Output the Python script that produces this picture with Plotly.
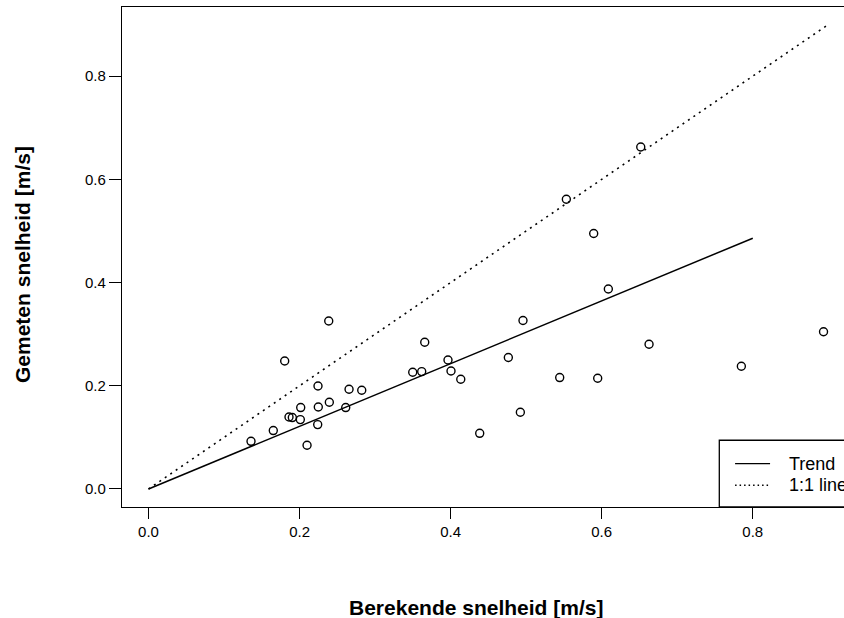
import plotly.graph_objects as go

# Calculated (x) versus measured (y) flow velocity, m/s
berekend = [0.1357, 0.1652, 0.1803, 0.1860, 0.1904, 0.2010, 0.2015, 0.2099, 0.2240,
            0.2244, 0.2248, 0.2386, 0.2394, 0.2611, 0.2655, 0.2823, 0.3498, 0.3617,
            0.3657, 0.3965, 0.4005, 0.4134, 0.4385, 0.4764, 0.4923, 0.4958, 0.5444,
            0.5532, 0.5894, 0.5947, 0.6088, 0.6517, 0.6627, 0.7849, 0.8937]
gemeten = [0.0924, 0.1132, 0.2481, 0.1395, 0.1384, 0.1345, 0.1578, 0.0847, 0.1248,
           0.1996, 0.1589, 0.3256, 0.1680, 0.1578, 0.1932, 0.1913, 0.2262, 0.2275,
           0.2843, 0.2500, 0.2287, 0.2126, 0.1079, 0.2547, 0.1486, 0.3264, 0.2159,
           0.5614, 0.4950, 0.2145, 0.3876, 0.6628, 0.2804, 0.2378, 0.3047]

# Trend line and 1:1 reference line end points
trend_x = [0.0, 0.8]
trend_y = [0.0, 0.486]
ref_x = [0.0, 0.9]
ref_y = [0.0, 0.9]

tick_vals = [0.0, 0.2, 0.4, 0.6, 0.8]
tick_text = ["0.0", "0.2", "0.4", "0.6", "0.8"]

FONT = "Liberation Sans, Arial, sans-serif"
X_RANGE = [-0.0351, 0.9208]
Y_RANGE = [-0.0349, 0.934]
DOTTED = "2px,4.6px"

fig = go.Figure()
fig.add_trace(go.Scatter(x=ref_x, y=ref_y, mode="lines",
                         line=dict(color="black", width=1.6, dash=DOTTED),
                         showlegend=False, hoverinfo="skip"))
fig.add_trace(go.Scatter(x=trend_x, y=trend_y, mode="lines",
                         line=dict(color="black", width=1.5),
                         showlegend=False, hoverinfo="skip"))
fig.add_trace(go.Scatter(x=berekend, y=gemeten, mode="markers",
                         marker=dict(symbol="circle-open", size=8, color="black",
                                     line=dict(width=1.4, color="black")),
                         showlegend=False))

# Legend box in the bottom-right corner (runs past the right edge)
leg_left, leg_right = 0.7557, 0.98
leg_top = 0.0944
fig.add_shape(type="rect", xref="x", yref="y", x0=leg_left, x1=leg_right,
              y0=Y_RANGE[0], y1=leg_top, line=dict(color="black", width=1.3),
              fillcolor="white", layer="above")
legend_items = [("Trend", "solid", 0.0492), ("1:1 line", "1.5px,3px", 0.0072)]
for label, dash, yy in legend_items:
    fig.add_shape(type="line", xref="x", yref="y", x0=0.7766, x1=0.8229, y0=yy, y1=yy,
                  line=dict(color="black", width=1.4, dash=dash), layer="above")
    fig.add_annotation(x=0.845, y=yy, xref="x", yref="y", text=label, showarrow=False,
                       xanchor="left", yanchor="middle",
                       font=dict(family=FONT, size=18, color="black"))

# Axis titles
fig.add_annotation(x=0.4903, y=-0.2, xref="paper", yref="paper",
                   text="<b>Berekende snelheid [m/s]</b>", showarrow=False,
                   xanchor="center", yanchor="middle",
                   font=dict(family=FONT, size=21, color="black"))
fig.add_annotation(x=-0.1385, y=0.484, xref="paper", yref="paper",
                   text="<b>Gemeten snelheid [m/s]</b>", showarrow=False, textangle=-90,
                   xanchor="center", yanchor="middle",
                   font=dict(family=FONT, size=21, color="black"))

axis_common = dict(showgrid=False, zeroline=False, showline=True, linecolor="black",
                   linewidth=1.3, ticks="outside", tickcolor="black", tickwidth=1.3,
                   tickvals=tick_vals, ticktext=tick_text,
                   tickfont=dict(family=FONT, size=15, color="black"))

fig.update_layout(
    width=844, height=618,
    margin=dict(l=122, r=0, t=7, b=111),
    paper_bgcolor="white", plot_bgcolor="white",
    xaxis=dict(range=X_RANGE, mirror=True, ticklen=11, **axis_common),
    yaxis=dict(range=Y_RANGE, mirror=False, ticklen=12, **axis_common),
)

fig.write_html("out.html")
